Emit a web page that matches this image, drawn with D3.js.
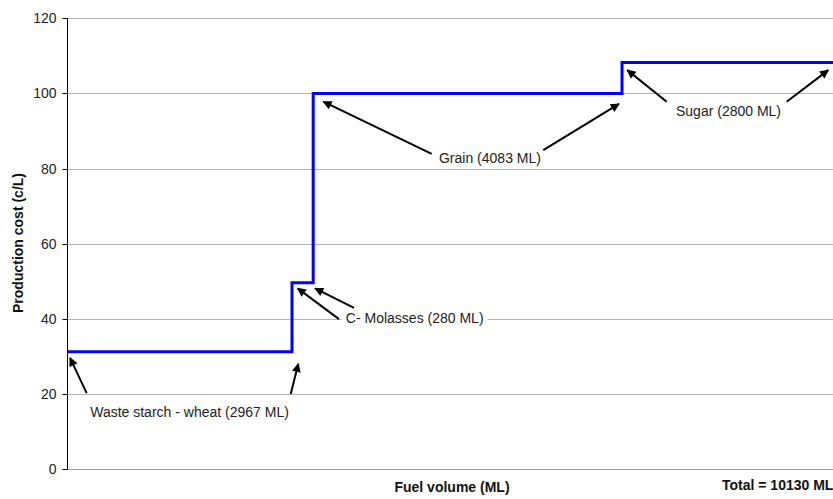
<!DOCTYPE html>
<html><head><meta charset="utf-8">
<script src="https://cdn.jsdelivr.net/npm/d3@7"></script>
<style>
html,body{margin:0;padding:0;background:#fff;}
svg text{font-family:Arial,"Liberation Sans",sans-serif;}
</style></head>
<body><svg id="c" width="833" height="499"></svg>
<script>
// Data
const feedstocks = ["Waste starch - wheat", "C- Molasses", "Grain", "Sugar"];
const volumesML = [2967, 280, 4083, 2800];
const costs = [31.2, 49.6, 100, 108.2];
const yTicks = [0, 20, 40, 60, 80, 100, 120];
const totalML = 10130;

// Annotation labels (in data units: ML, c/L)
const labelText = ["Waste starch - wheat (2967 ML)", "C- Molasses (280 ML)", "Grain (4083 ML)", "Sugar (2800 ML)"];
const labelAt = [[1612, 13.8], [4589, 38.9], [5584, 81.5], [8738, 94.0]];
const arrowTails = [[[252, 20.2], [2950, 20.0]], [[3588, 39.9], [3787, 42.9]], [[4814, 83.9], [6289, 84.9]], [[7921, 97.8], [9507, 97.8]]];
const arrowTips = [[[32, 29.6], [3050, 28.0]], [[3042, 48.1], [3271, 48.1]], [[3381, 97.8], [7290, 97.2]], [[7400, 106.2], [10057, 106.2]]];

const svg = d3.select("#c");
const x = d3.scaleLinear().domain([0, totalML]).range([67.6, 833.8]);
const y = d3.scaleLinear().domain([0, 120]).range([469, 18.3]);

// gridlines
svg.append("g").selectAll("line").data(yTicks).join("line")
  .attr("x1", 67).attr("x2", 833)
  .attr("y1", d => Math.round(y(d)) + 0.5).attr("y2", d => Math.round(y(d)) + 0.5)
  .attr("stroke", d => d === 0 ? "#999" : "#b4b4b4").attr("stroke-width", 1);

// y axis
const ya = svg.append("g").attr("transform", "translate(67.5,0)")
  .call(d3.axisLeft(y).tickValues(yTicks).tickSize(5).tickPadding(6).tickFormat(d3.format("d")));
ya.select(".domain").attr("stroke", "#000").attr("d", `M0,${y(120)}V${y(0)}`);
ya.selectAll(".tick line").attr("stroke", "#000");
ya.selectAll(".tick text").attr("font-size", 14).attr("fill", "#222")
  .attr("font-family", "Arial, Liberation Sans, sans-serif");
ya.selectAll(".tick").attr("transform", d => `translate(0,${Math.round(y(d)) + 0.5})`);

// step line
let cum = 0;
const pts = [];
volumesML.forEach((v, i) => {
  pts.push([cum, costs[i]]);
  cum += v;
  pts.push([cum, costs[i]]);
});
svg.append("path").datum(pts)
  .attr("d", d3.line().x(d => x(d[0])).y(d => y(d[1])))
  .attr("fill", "none").attr("stroke", "#0000ff").attr("stroke-width", 3)
  .attr("stroke-linejoin", "miter");

// annotations
const defs = svg.append("defs");
defs.append("marker").attr("id", "ah").attr("viewBox", "0 0 10 10")
  .attr("refX", 9).attr("refY", 5).attr("markerWidth", 11).attr("markerHeight", 9)
  .attr("markerUnits", "userSpaceOnUse").attr("orient", "auto")
  .append("path").attr("d", "M0,0L10,5L0,10Z").attr("fill", "#000");

const ann = svg.append("g");
labelText.forEach((t, i) => {
  const tx = ann.append("text").attr("x", x(labelAt[i][0])).attr("y", y(labelAt[i][1]))
    .attr("text-anchor", "middle").attr("font-size", 14).attr("fill", "#222").text(t);
  const bb = tx.node().getBBox();
  ann.insert("rect", "text").attr("x", bb.x - 4).attr("y", bb.y - 2)
    .attr("width", bb.width + 8).attr("height", bb.height + 4).attr("fill", "#fff");
  arrowTails[i].forEach((tl, j) => {
    const tp = arrowTips[i][j];
    ann.append("line").attr("x1", x(tl[0])).attr("y1", y(tl[1]))
      .attr("x2", x(tp[0])).attr("y2", y(tp[1]))
      .attr("stroke", "#000").attr("stroke-width", 2).attr("marker-end", "url(#ah)");
  });
});

// axis titles
svg.append("text").attr("x", 452).attr("y", 492).attr("text-anchor", "middle")
  .attr("font-size", 14).attr("font-weight", "bold").attr("fill", "#111").text("Fuel volume (ML)");
svg.append("text").attr("x", 722).attr("y", 490).attr("text-anchor", "start")
  .attr("font-size", 14).attr("font-weight", "bold").attr("fill", "#111").text("Total = " + totalML + " ML");
svg.append("text").attr("transform", "translate(23,243) rotate(-90)").attr("text-anchor", "middle")
  .attr("font-size", 14).attr("font-weight", "bold").attr("fill", "#111").text("Production cost (c/L)");
</script></body></html>
